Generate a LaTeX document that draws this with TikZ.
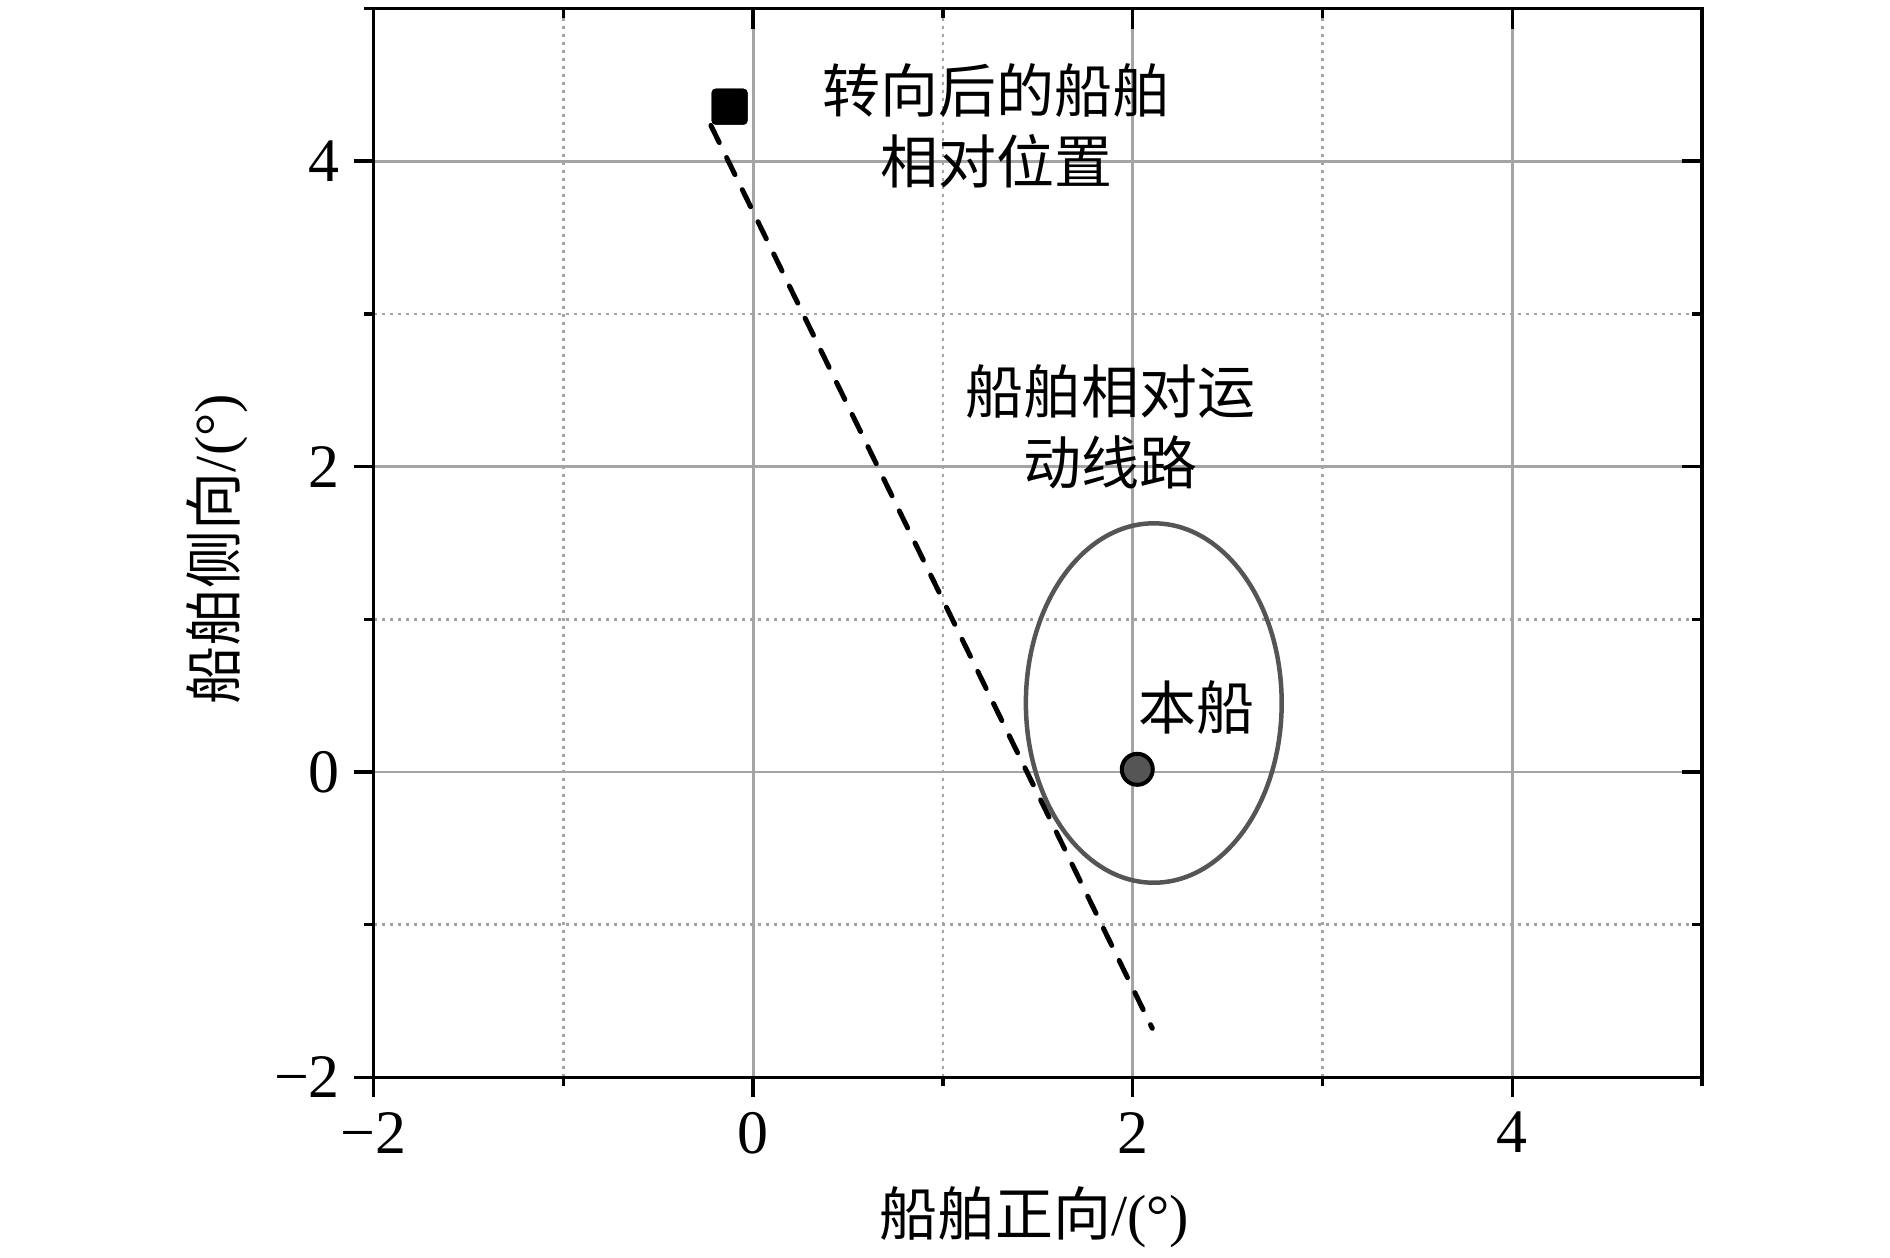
\documentclass[tikz,border=0pt]{standalone}
\usepackage{fontspec}
\setmainfont{Liberation Serif}
\newfontfamily\cjk{Noto Sans CJK SC}
\definecolor{gridgray}{HTML}{A4A4A4}
\definecolor{ellgray}{HTML}{555555}
\definecolor{shipgray}{HTML}{555555}
\begin{document}
\begin{tikzpicture}[x=1.898cm, y=1.527cm,
  majgrid/.style={draw=gridgray, line width=0.028cm},
  mingrid/.style={draw=gridgray, line width=0.028cm, dash pattern=on 0.035cm off 0.045cm},
  frameline/.style={draw=black, line width=0.035cm},
  tickline/.style={draw=black, line width=0.035cm},
  numlbl/.style={font=\fontsize{17.6pt}{20pt}\selectfont, inner sep=0pt},
  cjklbl/.style={font=\fontsize{16.5pt}{20.2pt}\selectfont\cjk, inner sep=0pt, align=center},
  axlbl/.style={font=\fontsize{16.5pt}{20.2pt}\selectfont, inner sep=0pt},
  routeline/.style={draw=black, line width=0.05cm, line cap=round, dash pattern=on 0.19cm off 0.1675cm},
]
\useasboundingbox (-3.968,-3.176) rectangle (5.990,5.056);

% grid
\foreach \v in {0,2,4} {
  \draw[majgrid] (\v,-2) -- (\v,5);
  \draw[majgrid] (-2,\v) -- (5,\v);
}
\foreach \v in {-1,1,3} {
  \draw[mingrid] (\v,-2) -- (\v,5);
  \draw[mingrid] (-2,\v) -- (5,\v);
}

% frame
\draw[frameline] (-2,-2) rectangle (5,5);

% ticks
\foreach \v in {-2,0,2,4} {
  \draw[tickline] (\v,-2) -- ++(0,-0.2cm);
  \draw[tickline] (\v,5) -- ++(0,-0.2cm);
  \draw[tickline] (-2,\v) -- ++(-0.2cm,0);
  \draw[tickline] (5,\v) -- ++(-0.2cm,0);
}
\foreach \v in {-1,1,3,5} {
  \draw[tickline] (\v,-2) -- ++(0,-0.09cm);
  \draw[tickline] (\v,5) -- ++(0,-0.09cm);
  \draw[tickline] (-2,\v) -- ++(-0.1cm,0);
  \draw[tickline] (5,\v) -- ++(-0.1cm,0);
}

% tick labels
\node[numlbl, anchor=north] (xt1) at ([yshift=-0.34cm]-2,-2) {−2};
\node[numlbl, anchor=north] (xt2) at ([yshift=-0.34cm]0,-2) {0};
\node[numlbl, anchor=north] (xt3) at ([yshift=-0.34cm]2,-2) {2};
\node[numlbl, anchor=north] (xt4) at ([yshift=-0.34cm]4,-2) {4};
\node[numlbl, anchor=east] (yt1) at ([xshift=-0.33cm]-2,-2) {−2};
\node[numlbl, anchor=east] (yt2) at ([xshift=-0.33cm]-2,0) {0};
\node[numlbl, anchor=east] (yt3) at ([xshift=-0.33cm]-2,2) {2};
\node[numlbl, anchor=east] (yt4) at ([xshift=-0.33cm]-2,4) {4};

% axis labels
\node[axlbl] (xlab) at (1.48,-2.914) {{\cjk 船舶正向}/(°)};
\node[axlbl, rotate=90] (ylab) at (-2.826,1.46) {{\cjk 船舶侧向}/(°)};

% ellipse
\draw[draw=ellgray, line width=0.045cm] (2.111,0.452) ellipse [x radius=1.279cm, y radius=1.797cm];

% other ship and relative route
\node[fill=black, draw=none, minimum size=0.36cm, rounded corners=0.04cm, inner sep=0pt] (other) at (-0.124,4.357) {};
\coordinate (routeend) at (2.103,-1.678);
\draw[routeline] (other.south west) -- (routeend);
\node[fill=black, draw=none, minimum size=0.36cm, rounded corners=0.04cm, inner sep=0pt] at (other) {};

% own ship
\node[circle, fill=shipgray, draw=black, line width=0.04cm, minimum size=0.31cm, inner sep=0pt] (own) at (2.024,0.018) {};

% annotations
\node[cjklbl] (lbl1) at (1.283,4.231) {转向后的船舶\\相对位置};
\node[cjklbl] (lbl2) at (1.883,2.263) {船舶相对运\\动线路};
\node[cjklbl] (lbl3) at (2.334,0.422) {本船};
\end{tikzpicture}
\end{document}
